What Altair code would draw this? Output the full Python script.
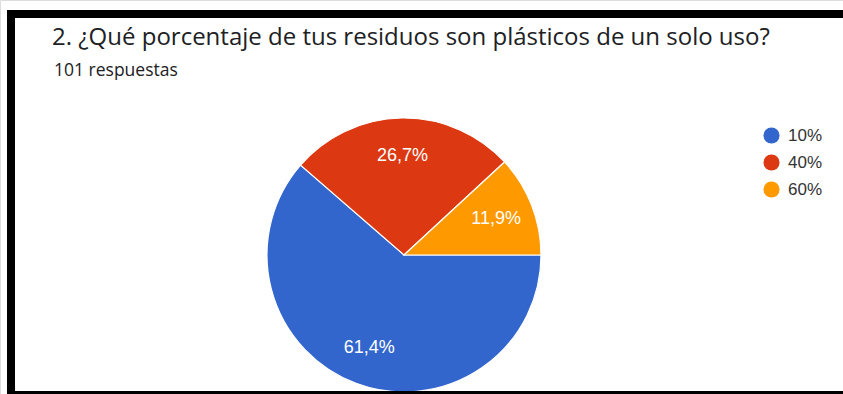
import altair as alt
import pandas as pd
import math

categories = ["10%", "40%", "60%"]
counts = [62, 27, 12]
labels = ["61,4%", "26,7%", "11,9%"]
colors = ["#3366CC", "#DC3912", "#FF9900"]
title_text = "2. ¿Qué porcentaje de tus residuos son plásticos de un solo uso?"
subtitle_text = "101 respuestas"

df = pd.DataFrame({"cat": categories, "n": counts, "lab": labels, "ord": [0, 1, 2]})

theta = alt.Theta("n:Q", stack=True, scale=alt.Scale(range=[math.pi / 2, math.pi / 2 + 2 * math.pi]))

base = alt.Chart(df).encode(theta=theta, order=alt.Order("ord:Q"))

pie = base.mark_arc(radius=137, stroke="white", strokeWidth=1.2).encode(
    x=alt.value(404), y=alt.value(255),
    color=alt.Color("cat:N", scale=alt.Scale(domain=categories, range=colors),
                    legend=alt.Legend(title=None, orient="none", legendX=763, legendY=127,
                                      symbolType="circle", symbolSize=260, labelFontSize=17,
                                      labelFont="Liberation Sans", labelColor="#333333",
                                      rowPadding=9, labelOffset=8, symbolStrokeWidth=0)),
)

text = base.mark_text(radius=99, font="Liberation Sans", fontSize=18, color="white").encode(
    x=alt.value(404), y=alt.value(255), text="lab:N"
)

frame = alt.Chart(df).mark_rect(fill=None, stroke="black", strokeWidth=8).encode(
    x=alt.value(11), x2=alt.value(860), y=alt.value(14), y2=alt.value(395)
)

title = alt.Chart(pd.DataFrame({"t": [title_text]})).mark_text(
    align="left", baseline="alphabetic", font="Open Sans", fontSize=24, color="#202124"
).encode(x=alt.value(52), y=alt.value(45), text="t:N")

subtitle = alt.Chart(pd.DataFrame({"t": [subtitle_text]})).mark_text(
    align="left", baseline="alphabetic", font="Open Sans", fontSize=17.5, color="#202124"
).encode(x=alt.value(54), y=alt.value(76), text="t:N")

chart = alt.layer(pie, text, frame, title, subtitle).properties(
    width=843, height=394,
    padding={"left": 0, "top": 0, "right": 0, "bottom": 0},
    autosize=alt.AutoSizeParams(type="none"),
).configure_view(strokeWidth=0).configure(background="white")

chart.save("out.html", embed_options={"renderer": "svg", "actions": False})
